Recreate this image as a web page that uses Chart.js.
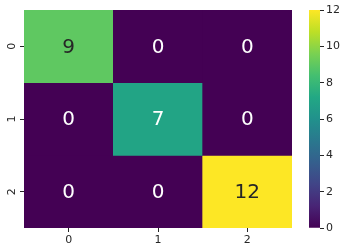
<!DOCTYPE html>
<html>
<head>
<meta charset="utf-8">
<script src="https://cdn.jsdelivr.net/npm/chart.js@4"></script>
<style>
  html, body { margin: 0; padding: 0; background: #fff; }
  #wrap { position: relative; width: 346px; height: 252px; }
  #heat { position: absolute; left: 0; top: 0; }
  #bar { position: absolute; left: 300px; top: 0; }
</style>
</head>
<body>
<div id="wrap">
  <canvas id="heat" width="300" height="252"></canvas>
  <canvas id="bar" width="46" height="252"></canvas>
</div>
<script>
const colLabels = ["0", "1", "2"];
const rowLabels = ["0", "1", "2"];
const row0 = [9, 0, 0];
const row1 = [0, 7, 0];
const row2 = [0, 0, 12];
const rows = [row0, row1, row2];
const vmin = 0;
const vmax = 12;
const colorbarTicks = [0, 2, 4, 6, 8, 10, 12];

const TEXT = "#262626";
const FONT = "DejaVu Sans";

// viridis, sampled every 0.1
const viridis = ["#440154", "#482475", "#414487", "#355f8d", "#2a788e", "#21918c",
  "#22a884", "#44bf70", "#7ad151", "#bddf26", "#fde725"];

function hexToRgb(h) {
  const n = parseInt(h.slice(1), 16);
  return [(n >> 16) & 255, (n >> 8) & 255, n & 255];
}

function cmap(t) {
  t = Math.min(1, Math.max(0, t));
  const pos = t * (viridis.length - 1);
  const i = Math.min(viridis.length - 2, Math.floor(pos));
  const f = pos - i;
  const a = hexToRgb(viridis[i]);
  const b = hexToRgb(viridis[i + 1]);
  const c = a.map((v, k) => Math.round(v + (b[k] - v) * f));
  return `rgb(${c[0]}, ${c[1]}, ${c[2]})`;
}

function norm(v) {
  return (v - vmin) / (vmax - vmin);
}

const annotations = {
  id: "annotations",
  afterDatasetsDraw(chart) {
    const { ctx, scales } = chart;
    ctx.save();
    ctx.font = `20px "${FONT}"`;
    ctx.textAlign = "center";
    ctx.textBaseline = "middle";
    rows.forEach((row, r) => {
      row.forEach((v, c) => {
        const x = scales.x.getPixelForValue(c);
        const y = scales.y.getPixelForValue(r + 0.5);
        ctx.fillStyle = norm(v) > 0.6 ? TEXT : "#ffffff";
        ctx.fillText(String(v), x, y + 1);
      });
    });
    // rotated row labels, like matplotlib
    ctx.font = `11px "${FONT}"`;
    ctx.fillStyle = TEXT;
    rowLabels.forEach((label, r) => {
      const y = scales.y.getPixelForValue(r + 0.5);
      ctx.save();
      ctx.translate(12, y);
      ctx.rotate(-Math.PI / 2);
      ctx.fillText(label, 0, 0);
      ctx.restore();
    });
    ctx.restore();
  }
};

new Chart(document.getElementById("heat"), {
  type: "bar",
  data: {
    labels: colLabels,
    datasets: rows.map((row, r) => ({
      data: colLabels.map(() => [r, r + 1]),
      backgroundColor: row.map((v) => cmap(norm(v))),
      borderWidth: 0,
      grouped: false,
      barPercentage: 1,
      categoryPercentage: 1
    }))
  },
  options: {
    responsive: false,
    animation: false,
    layout: { padding: { top: 10, right: 8, left: 0, bottom: 0 } },
    plugins: { legend: { display: false }, tooltip: { enabled: false } },
    scales: {
      x: {
        grid: { offset: false, drawOnChartArea: false, drawTicks: true, tickLength: 4, color: TEXT },
        border: { display: false },
        ticks: { color: TEXT, font: { family: FONT, size: 11 }, padding: 2, maxRotation: 0 },
        afterFit: (scale) => { scale.height = 24; }
      },
      y: {
        min: 0,
        max: rowLabels.length,
        reverse: true,
        afterBuildTicks: (scale) => {
          scale.ticks = rowLabels.map((_, r) => ({ value: r + 0.5 }));
        },
        grid: { drawOnChartArea: false, drawTicks: true, tickLength: 4, color: TEXT },
        border: { display: false },
        ticks: { display: false },
        afterFit: (scale) => { scale.width = 24; }
      }
    }
  },
  plugins: [annotations]
});

new Chart(document.getElementById("bar"), {
  type: "bar",
  data: {
    labels: [""],
    datasets: [{
      data: [[vmin, vmax]],
      backgroundColor: (context) => {
        const area = context.chart.chartArea;
        if (!area) return viridis[0];
        const g = context.chart.ctx.createLinearGradient(0, area.bottom, 0, area.top);
        viridis.forEach((c, i) => g.addColorStop(i / (viridis.length - 1), c));
        return g;
      },
      borderWidth: 0,
      barPercentage: 1,
      categoryPercentage: 1
    }]
  },
  options: {
    responsive: false,
    animation: false,
    layout: { padding: { top: 10, bottom: 24, left: 9, right: 0 } },
    plugins: { legend: { display: false }, tooltip: { enabled: false } },
    scales: {
      x: { display: false },
      y: {
        position: "right",
        min: vmin,
        max: vmax,
        afterBuildTicks: (scale) => {
          scale.ticks = colorbarTicks.map((v) => ({ value: v }));
        },
        grid: { drawOnChartArea: false, drawTicks: true, tickLength: 4, color: TEXT },
        border: { display: false },
        ticks: { color: TEXT, font: { family: FONT, size: 11 }, padding: 2 },
        afterFit: (scale) => { scale.width = 26; }
      }
    }
  }
});
</script>
</body>
</html>
